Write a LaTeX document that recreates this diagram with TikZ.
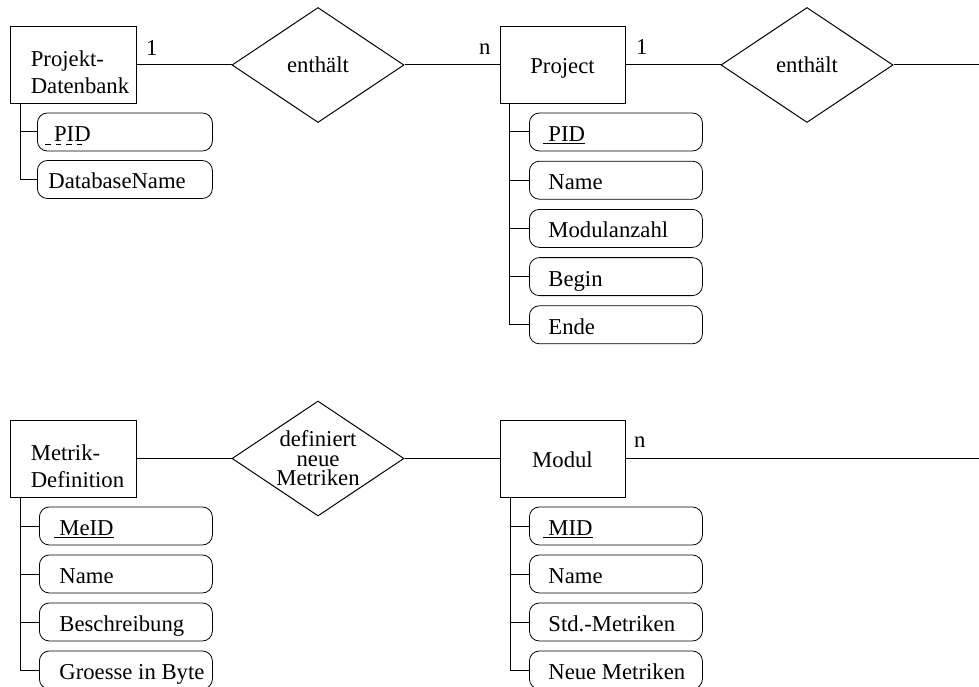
\documentclass[tikz,border=0pt]{standalone}
\usepackage{fontspec}
\setmainfont{Liberation Serif}
\usetikzlibrary{shapes.geometric}
% fixed-width, left-aligned attribute text
\newcommand{\attrtxt}[2]{\makebox[#1][l]{#2}}
\begin{document}
\begin{tikzpicture}[x=1pt,y=-1pt,
  every node/.style={font=\fontsize{22.7}{27}\selectfont},
  line/.style={line width=1pt},
  entity/.style={draw,line width=1pt,rectangle,inner sep=0pt,
    minimum width=126pt,minimum height=77pt,text height=18pt,text depth=0pt},
  relation/.style={draw,line width=1pt,diamond,aspect=1.5,inner sep=0pt,
    minimum width=172pt,minimum height=115pt,align=center},
  attr/.style={draw,line width=0.8pt,rectangle,rounded corners=10pt,anchor=west,
    minimum height=38pt,inner ysep=0pt,text height=19pt,text depth=0pt},
  card/.style={anchor=base west,inner sep=0pt},
  keyline/.style={line width=0.9pt,dash pattern=on 5.5pt off 5pt},
]
\useasboundingbox (0,0) rectangle (979,687);
\clip (0,0) rectangle (979,687);

% ---- entities ----
\node[entity,label={[xshift=7pt,yshift=-7.5pt,align=left]center:{Projekt-\\Datenbank}}] (pdb) at (73,65) {};
\node[entity,minimum width=125pt] (prj) at (562.5,65) {Project};
\node[entity,label={[xshift=4.5pt,yshift=-7.5pt,align=left]center:{Metrik-\\Definition}}] (mdef) at (73,458.5) {};
\node[entity,minimum width=125pt] (mod) at (562.5,458.5) {Modul};

% ---- relationships ----
\node[relation,text height=16pt,text depth=0pt] (r1) at (318,65) {enthält};
\node[relation,text height=16pt,text depth=0pt] (r2) at (807,65) {enthält};
\node[relation,font=\fontsize{22.7}{19.5}\selectfont] (r3) at (318,458.5) {definiert\\neue\\Metriken};

\coordinate (e1) at (979,65);
\coordinate (e2) at (979,458.5);

% ---- connectors ----
\draw[line] (pdb.east) -- (r1.west);
\draw[line] (r1.east) -- (prj.west);
\draw[line] (prj.east) -- (r2.west);
\draw[line] (r2.east) -- (e1);
\draw[line] (mdef.east) -- (r3.west);
\draw[line] (r3.east) -- (mod.west);
\draw[line] (mod.east) -- (e2);

% ---- cardinalities ----
\node[card] (c1) at (146,56) {1};
\node[card] (c2) at (479,55) {n};
\node[card] (c3) at (636,55) {1};
\node[card] (c4) at (634,447) {n};

% ---- attributes of Projekt-Datenbank ----
\node[attr,inner xsep=11pt] (pa1) at (37,132) {\attrtxt{153pt}{\ PID}};
\node[attr,inner xsep=11pt] (pa2) at (37,179.5) {\attrtxt{153pt}{DatabaseName}};
\draw[keyline] ([shift={(8pt,-3pt)}]pa1.base west) -- +(38pt,0pt);
\coordinate (s1) at ([xshift=10.5pt]pdb.south west);
\draw[line] (s1) |- (pa2.west);
\draw[line] (pa1.west) -- (pa1.west -| s1);

% ---- attributes of Project ----
\node[attr,inner xsep=19pt] (pr1) at (529,132) {\attrtxt{135pt}{\hspace{-0.25em}\underline{\ PID}}};
\node[attr,inner xsep=19pt] (pr2) at (529,180.2) {\attrtxt{135pt}{Name}};
\node[attr,inner xsep=19pt] (pr3) at (529,228.4) {\attrtxt{135pt}{Modulanzahl}};
\node[attr,inner xsep=19pt] (pr4) at (529,276.6) {\attrtxt{135pt}{Begin}};
\node[attr,inner xsep=19pt] (pr5) at (529,324.8) {\attrtxt{135pt}{Ende}};
\coordinate (s2) at ([xshift=10pt]prj.south west);
\draw[line] (s2) |- (pr5.west);
\foreach \a in {pr1,pr2,pr3,pr4}
  \draw[line] (\a.west) -- (\a.west -| s2);

% ---- attributes of Metrik-Definition ----
\node[attr,inner xsep=20pt] (md1) at (39,526) {\attrtxt{133pt}{\hspace{-0.25em}\underline{\ MeID}}};
\node[attr,inner xsep=20pt] (md2) at (39,574) {\attrtxt{133pt}{Name}};
\node[attr,inner xsep=20pt] (md3) at (39,622) {\attrtxt{133pt}{Beschreibung}};
\node[attr,inner xsep=20pt] (md4) at (39,670) {\attrtxt{133pt}{Groesse in Byte}};
\coordinate (s3) at ([xshift=10.5pt]mdef.south west);
\draw[line] (s3) |- (md4.west);
\foreach \a in {md1,md2,md3}
  \draw[line] (\a.west) -- (\a.west -| s3);

% ---- attributes of Modul ----
\node[attr,inner xsep=19pt] (mo1) at (529,526) {\attrtxt{135pt}{\hspace{-0.25em}\underline{\ MID}}};
\node[attr,inner xsep=19pt] (mo2) at (529,574) {\attrtxt{135pt}{Name}};
\node[attr,inner xsep=19pt] (mo3) at (529,622) {\attrtxt{135pt}{Std.-Metriken}};
\node[attr,inner xsep=19pt] (mo4) at (529,670) {\attrtxt{135pt}{Neue Metriken}};
\coordinate (s4) at ([xshift=10.5pt]mod.south west);
\draw[line] (s4) |- (mo4.west);
\foreach \a in {mo1,mo2,mo3}
  \draw[line] (\a.west) -- (\a.west -| s4);
\end{tikzpicture}
\end{document}
